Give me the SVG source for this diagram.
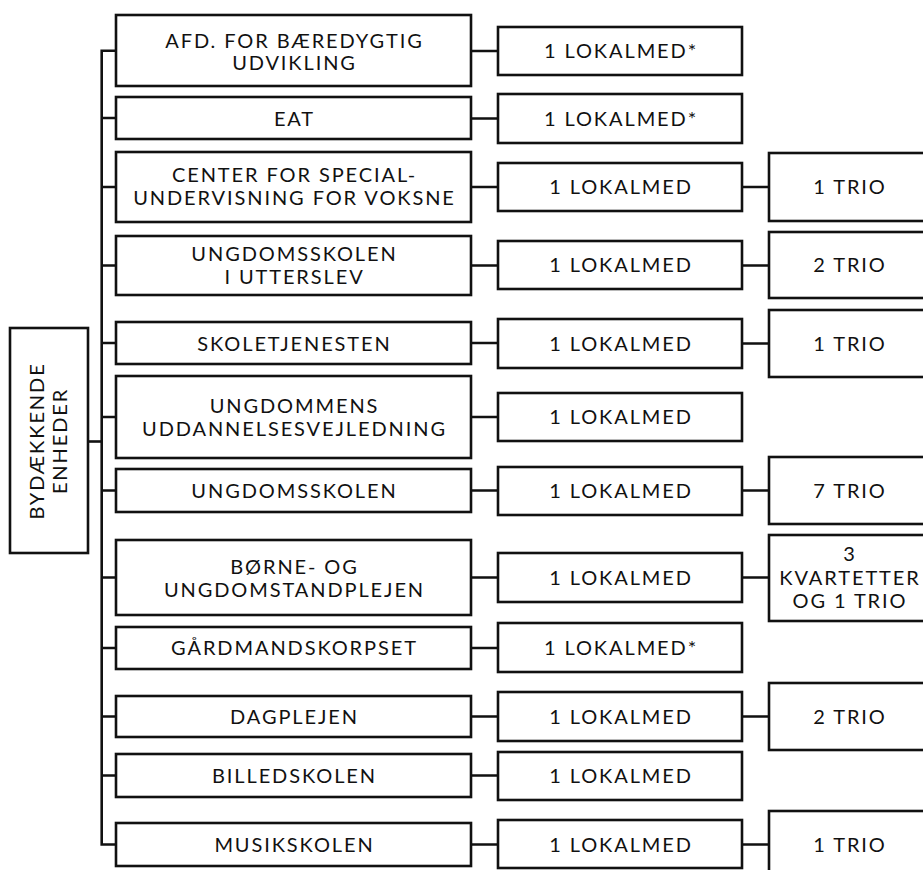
<svg xmlns="http://www.w3.org/2000/svg" width="923" height="870" viewBox="0 0 923 870">
<style>
.box{fill:#fff;stroke:#111;stroke-width:2.6}
.t{font-family:Lato,"Liberation Sans",sans-serif;font-size:20px;letter-spacing:1.9px;fill:#111;text-anchor:middle}
.c{stroke:#111;stroke-width:2.6;fill:none}
</style>
<rect width="923" height="870" fill="#fff"/>
<g id="connectors" class="c">
<path d="M88 441.5H101.7"/>
<path d="M116 50.7H101.7V844.5H116"/>
<path d="M101.7 118H116M101.7 187H116M101.7 265.5H116M101.7 343H116M101.7 417H116M101.7 490.5H116M101.7 577.5H116M101.7 648H116M101.7 716.5H116M101.7 775.5H116"/>
<path d="M471 51H498M471 118.5H498M471 187H498M471 265.5H498M471 343H498M471 417H498M471 490.5H498M471 577.5H498M471 648H498M471 716.5H498M471 775.5H498M471 844.5H498"/>
<path d="M742 187H769M742 265.5H769M742 343.5H769M742 490.5H769M742 577.5H769M742 716.5H769M742 844.5H769"/>
</g>
<g id="root">
<rect class="box" x="10" y="328" width="78" height="225"/>
<text class="t" transform="translate(43.8 441) rotate(-90)">BYDÆKKENDE</text>
<text class="t" transform="translate(67.2 441) rotate(-90)">ENHEDER</text>
</g>
<g id="u1"><rect class="box" x="116" y="15" width="355" height="71"/><text class="t" x="294.5" y="47.5">AFD. FOR BÆREDYGTIG</text><text class="t" x="294.5" y="69.5">UDVIKLING</text></g>
<g id="u2"><rect class="box" x="116" y="97" width="355" height="42"/><text class="t" x="294.5" y="125.5">EAT</text></g>
<g id="u3"><rect class="box" x="116" y="152" width="355" height="70"/><text class="t" x="294.5" y="182">CENTER FOR SPECIAL-</text><text class="t" x="294.5" y="205">UNDERVISNING FOR VOKSNE</text></g>
<g id="u4"><rect class="box" x="116" y="236" width="355" height="59"/><text class="t" x="294.5" y="260.5">UNGDOMSSKOLEN</text><text class="t" x="294.5" y="283.5">I UTTERSLEV</text></g>
<g id="u5"><rect class="box" x="116" y="322" width="355" height="42"/><text class="t" x="294.5" y="350.5">SKOLETJENESTEN</text></g>
<g id="u6"><rect class="box" x="116" y="376" width="355" height="82"/><text class="t" x="294.5" y="412.5">UNGDOMMENS</text><text class="t" x="294.5" y="435.5">UDDANNELSESVEJLEDNING</text></g>
<g id="u7"><rect class="box" x="116" y="469" width="355" height="43"/><text class="t" x="294.5" y="497.5">UNGDOMSSKOLEN</text></g>
<g id="u8"><rect class="box" x="116" y="540" width="355" height="75"/><text class="t" x="294.5" y="573.5">BØRNE- OG</text><text class="t" x="294.5" y="596.5">UNGDOMSTANDPLEJEN</text></g>
<g id="u9"><rect class="box" x="116" y="627" width="355" height="42"/><text class="t" x="294.5" y="655">GÅRDMANDSKORPSET</text></g>
<g id="u10"><rect class="box" x="116" y="696" width="355" height="41"/><text class="t" x="294.5" y="723.5">DAGPLEJEN</text></g>
<g id="u11"><rect class="box" x="116" y="754" width="355" height="43"/><text class="t" x="294.5" y="782.5">BILLEDSKOLEN</text></g>
<g id="u12"><rect class="box" x="116" y="823" width="355" height="43"/><text class="t" x="294.5" y="851.5">MUSIKSKOLEN</text></g>
<g id="l1"><rect class="box" x="498" y="27" width="244" height="48"/><text class="t" x="621" y="58">1 LOKALMED*</text></g>
<g id="l2"><rect class="box" x="498" y="94" width="244" height="49"/><text class="t" x="621" y="125.5">1 LOKALMED*</text></g>
<g id="l3"><rect class="box" x="498" y="163" width="244" height="48"/><text class="t" x="621" y="194">1 LOKALMED</text></g>
<g id="l4"><rect class="box" x="498" y="241" width="244" height="48"/><text class="t" x="621" y="272">1 LOKALMED</text></g>
<g id="l5"><rect class="box" x="498" y="319" width="244" height="49"/><text class="t" x="621" y="350.5">1 LOKALMED</text></g>
<g id="l6"><rect class="box" x="498" y="393" width="244" height="48"/><text class="t" x="621" y="424">1 LOKALMED</text></g>
<g id="l7"><rect class="box" x="498" y="467" width="244" height="48"/><text class="t" x="621" y="498">1 LOKALMED</text></g>
<g id="l8"><rect class="box" x="498" y="553" width="244" height="49"/><text class="t" x="621" y="584.5">1 LOKALMED</text></g>
<g id="l9"><rect class="box" x="498" y="623" width="244" height="49"/><text class="t" x="621" y="654.5">1 LOKALMED*</text></g>
<g id="l10"><rect class="box" x="498" y="692" width="244" height="49"/><text class="t" x="621" y="723.5">1 LOKALMED</text></g>
<g id="l11"><rect class="box" x="498" y="752" width="244" height="48"/><text class="t" x="621" y="783">1 LOKALMED</text></g>
<g id="l12"><rect class="box" x="498" y="820" width="244" height="48"/><text class="t" x="621" y="851.5">1 LOKALMED</text></g>
<g id="t3"><rect class="box" x="769" y="153" width="160" height="68"/><text class="t" x="850" y="194">1 TRIO</text></g>
<g id="t4"><rect class="box" x="769" y="232" width="160" height="66"/><text class="t" x="850" y="272">2 TRIO</text></g>
<g id="t5"><rect class="box" x="769" y="310" width="160" height="67"/><text class="t" x="850" y="350.5">1 TRIO</text></g>
<g id="t7"><rect class="box" x="769" y="457" width="160" height="67"/><text class="t" x="850" y="497.5">7 TRIO</text></g>
<g id="t8"><rect class="box" x="769" y="535" width="160" height="86"/><text class="t" x="850" y="561">3</text><text class="t" x="850" y="584.5">KVARTETTER</text><text class="t" x="850" y="608">OG 1 TRIO</text></g>
<g id="t10"><rect class="box" x="769" y="683" width="160" height="67"/><text class="t" x="850" y="723.5">2 TRIO</text></g>
<g id="t12"><rect class="box" x="769" y="811" width="160" height="67"/><text class="t" x="850" y="851.5">1 TRIO</text></g>
</svg>
